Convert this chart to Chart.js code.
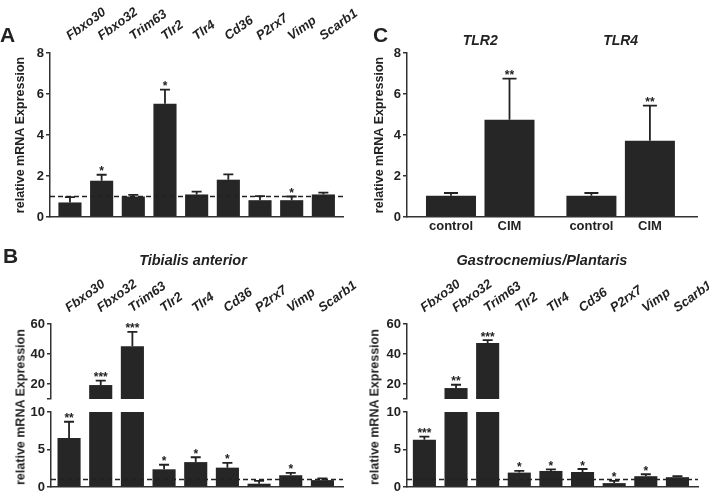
<!DOCTYPE html>
<html lang="en">
<head>
<meta charset="utf-8">
<title>relative mRNA Expression</title>
<script src="https://cdn.jsdelivr.net/npm/chart.js@4.4.0/dist/chart.umd.min.js"></script>
<style>
  body { margin: 0; background: #fff; }
  #lienzo { position: relative; width: 709px; height: 496px; overflow: hidden; background: #fff;
    font-family: "Liberation Sans", Arial, sans-serif; color: #222; }
  #lienzo canvas { position: absolute; }
  .letra { position: absolute; font-weight: bold; font-size: 21px; line-height: 21px; }
  .titulo { position: absolute; font-weight: bold; font-style: italic; font-size: 14.5px; line-height: 16px;
    white-space: nowrap; transform: translateX(-50%); }
  .ejeY { position: absolute; font-weight: bold; font-size: 12.5px; line-height: 15px; white-space: nowrap;
    transform: translate(-50%, -50%) rotate(-90deg); }
</style>
</head>
<body>
<div id="lienzo">
  <canvas id="graficoA" width="362" height="232" style="left:0;top:0"></canvas>
  <canvas id="graficoC" width="354" height="240" style="left:355px;top:0"></canvas>
  <canvas id="tibialSup" width="362" height="162" style="left:0;top:240px"></canvas>
  <canvas id="tibialInf" width="362" height="94" style="left:0;top:402px"></canvas>
  <canvas id="gastroSup" width="354" height="162" style="left:355px;top:240px"></canvas>
  <canvas id="gastroInf" width="354" height="94" style="left:355px;top:402px"></canvas>

  <div class="letra" style="left:0;top:24px">A</div>
  <div class="letra" style="left:373px;top:24px">C</div>
  <div class="letra" style="left:3px;top:245px">B</div>
  <div class="titulo" style="left:193px;top:252px">Tibialis anterior</div>
  <div class="titulo" style="left:542px;top:252px">Gastrocnemius/Plantaris</div>
  <div class="ejeY" style="left:21px;top:407px">relative mRNA Expression</div>
  <div class="ejeY" style="left:375px;top:407px">relative mRNA Expression</div>
</div>
<script>
// Genes del panel A y B
const genes = ["Fbxo30", "Fbxo32", "Trim63", "Tlr2", "Tlr4", "Cd36", "P2rx7", "Vimp", "Scarb1"];

// Panel A
const mediaA = [0.71, 1.77, 1.0, 5.53, 1.1, 1.82, 0.82, 0.82, 1.1];
const errorA = [0.26, 0.29, 0.08, 0.68, 0.14, 0.26, 0.2, 0.18, 0.09];
const signifA = ["", "*", "", "*", "", "", "", "*", ""];
const ticksA = [0, 2, 4, 6, 8];

// Panel B: Tibialis anterior
const mediaTA = [6.55, 19.3, 45.1, 2.36, 3.32, 2.58, 0.44, 1.57, 0.92];
const errorTA = [2.15, 2.9, 9.6, 0.61, 0.65, 0.65, 0.39, 0.31, 0.22];
const signifTA = ["**", "***", "***", "*", "*", "*", "", "*", ""];

// Panel B: Gastrocnemius/Plantaris
const mediaGP = [6.29, 17.3, 47.3, 1.92, 2.14, 2.0, 0.52, 1.44, 1.31];
const errorGP = [0.43, 2.2, 2.0, 0.22, 0.22, 0.4, 0.31, 0.26, 0.13];
const signifGP = ["***", "**", "***", "*", "*", "*", "*", "*", ""];

// Eje cortado del panel B
const ticksBSup = [10, 20, 40, 60];
const etiquetasBSup = ["", "20", "40", "60"];
const ticksBInf = [0, 5, 10];

// Panel C
const grupos = ["TLR2", "TLR4"];
const condiciones = ["control", "CIM"];
const mediaControl = [1.04, 1.04];
const errorControl = [0.13, 0.13];
const mediaCIM = [4.75, 3.72];
const errorCIM = [2.0, 1.71];
const signifCIM = ["**", "**"];
const ticksC = [0, 2, 4, 6, 8];

const colorBarra = "#262626";
const colorTexto = "#222";
const colorEje = "#333";
const fuente = '"Liberation Sans", Arial, sans-serif';
Chart.defaults.font.family = fuente;
Chart.defaults.color = colorTexto;

// Barras de error, asteriscos y línea discontinua en 1
const marcas = {
  id: "marcas",
  afterDatasetsDraw(chart, args, opts) {
    const { ctx, chartArea } = chart;
    const y = chart.scales.y;
    ctx.save();
    ctx.strokeStyle = colorTexto;
    ctx.fillStyle = colorTexto;
    if (opts.linea !== undefined) {
      const yl = y.getPixelForValue(opts.linea);
      ctx.setLineDash([5, 3]);
      ctx.lineWidth = 1.6;
      ctx.beginPath();
      ctx.moveTo(chartArea.left, yl);
      ctx.lineTo(chartArea.right, yl);
      ctx.stroke();
      ctx.setLineDash([]);
    }
    chart.data.datasets.forEach((ds, i) => {
      chart.getDatasetMeta(i).data.forEach((barra, j) => {
        const valor = ds.data[j].y;
        // solo lo que cae dentro de este tramo del eje
        if (valor < y.min || valor > y.max) return;
        const yv = y.getPixelForValue(valor);
        const yt = y.getPixelForValue(valor + ds.errores[j]);
        ctx.lineWidth = 1.8;
        ctx.beginPath();
        ctx.moveTo(barra.x, yv);
        ctx.lineTo(barra.x, yt);
        ctx.moveTo(barra.x - opts.cap / 2, yt);
        ctx.lineTo(barra.x + opts.cap / 2, yt);
        ctx.stroke();
        if (ds.estrellas[j]) {
          ctx.font = "bold 12px " + fuente;
          ctx.textAlign = "center";
          ctx.textBaseline = "alphabetic";
          ctx.fillText(ds.estrellas[j], barra.x, yt + 0.5);
        }
      });
    });
    ctx.restore();
  },
};

function ejeX(o) {
  return {
    type: "linear",
    position: o.posicion,
    min: o.min,
    max: o.max,
    offset: false,
    bounds: "data",
    afterBuildTicks: (s) => {
      s.ticks = o.valores.map((v) => ({ value: v }));
    },
    afterFit: (s) => {
      s.height = o.alto;
      s.paddingLeft = 0;
      s.paddingRight = 0;
    },
    grid: { display: false, drawTicks: false },
    border: { display: o.borde, color: colorEje, width: 1.5 },
    ticks: {
      display: !!o.textos,
      autoSkip: false,
      callback: (v, i) => (o.textos ? o.textos[i] : ""),
      minRotation: o.rotacion || 0,
      maxRotation: o.rotacion || 0,
      padding: o.padding || 0,
      labelOffset: o.corrimiento || 0,
      font: { size: o.tamano || 13, weight: "bold", style: o.cursiva ? "italic" : "normal" },
      color: colorTexto,
    },
  };
}

function ejeY(o) {
  return {
    min: o.min,
    max: o.max,
    bounds: "data",
    afterBuildTicks: (s) => {
      s.ticks = o.valores.map((v) => ({ value: v }));
    },
    afterFit: (s) => {
      s.width = o.ancho;
      s.paddingTop = 0;
      s.paddingBottom = 0;
    },
    grid: { drawOnChartArea: false, drawTicks: true, tickLength: 4, color: colorEje, lineWidth: 1.5 },
    border: { color: colorEje, width: 1.5 },
    ticks: {
      callback: (v, i) => o.textos[i],
      padding: 2,
      font: { size: 13, weight: "bold" },
      color: colorTexto,
    },
    title: o.tituloPad
      ? {
          display: true,
          text: "relative mRNA Expression",
          font: { size: 12.5, weight: "bold" },
          color: colorTexto,
          padding: { top: o.tituloPad, bottom: 0 },
        }
      : { display: false },
  };
}

function grafico(id, o) {
  return new Chart(document.getElementById(id), {
    type: "bar",
    data: {
      datasets: [
        {
          data: o.puntos,
          errores: o.errores,
          estrellas: o.estrellas,
          backgroundColor: colorBarra,
          borderWidth: 0,
          barPercentage: o.barra,
          categoryPercentage: 1,
        },
      ],
    },
    options: {
      responsive: false,
      animation: false,
      events: [],
      layout: { padding: o.padding },
      plugins: {
        legend: { display: false },
        tooltip: { enabled: false },
        marcas: { linea: o.linea, cap: o.cap },
      },
      scales: o.escalas,
    },
    plugins: [marcas],
  });
}

const indices = genes.map((g, i) => i);
const puntosDe = (media) => media.map((v, i) => ({ x: i, y: v }));

// A
grafico("graficoA", {
  puntos: puntosDe(mediaA),
  errores: errorA,
  estrellas: signifA,
  barra: 0.73,
  cap: 10,
  linea: 1,
  padding: { left: 0, right: 19, top: 0, bottom: 0 },
  escalas: {
    x: ejeX({ posicion: "bottom", min: -0.63, max: 8.62, valores: indices, alto: 15, borde: true }),
    xArriba: ejeX({
      posicion: "top", min: -0.63, max: 8.62, valores: indices, textos: genes, alto: 53,
      borde: false, rotacion: 36, padding: 9, corrimiento: 7, cursiva: true,
    }),
    y: ejeY({ min: 0, max: 8, valores: ticksA, textos: ticksA.map(String), ancho: 50, tituloPad: 13.5 }),
  },
});

// C: posiciones de las barras por grupo
const pasoGrupo = 2.4;
const posC = [];
const puntosC = [];
const erroresC = [];
const estrellasC = [];
const textosC = [];
grupos.forEach((g, gi) => {
  [mediaControl, mediaCIM].forEach((serie, ci) => {
    posC.push(gi * pasoGrupo + ci);
    puntosC.push({ x: gi * pasoGrupo + ci, y: serie[gi] });
    erroresC.push(ci === 0 ? errorControl[gi] : errorCIM[gi]);
    estrellasC.push(ci === 0 ? "" : signifCIM[gi]);
    textosC.push(condiciones[ci]);
  });
});
const centrosGrupo = grupos.map((g, gi) => gi * pasoGrupo + 0.5);

grafico("graficoC", {
  puntos: puntosC,
  errores: erroresC,
  estrellas: estrellasC,
  barra: 0.855,
  cap: 14,
  padding: { left: 0, right: 12, top: 0, bottom: 0 },
  escalas: {
    x: ejeX({ posicion: "bottom", min: -0.752, max: 4.205, valores: posC, textos: textosC, alto: 23, borde: true, padding: 2 }),
    xArriba: ejeX({
      posicion: "top", min: -0.752, max: 4.205, valores: centrosGrupo, textos: grupos, alto: 53,
      borde: false, padding: 3, tamano: 14, cursiva: true,
    }),
    y: ejeY({ min: 0, max: 8, valores: ticksC, textos: ticksC.map(String), ancho: 52, tituloPad: 17.5 }),
  },
});

// B: cada músculo en dos tramos (eje cortado)
function panelB(idSup, idInf, media, error, signif, xMin, xMax, anchoY, derecha) {
  grafico(idSup, {
    puntos: puntosDe(media),
    errores: error,
    estrellas: signif,
    barra: 0.73,
    cap: 10,
    padding: { left: 0, right: derecha, top: 0, bottom: 3 },
    escalas: {
      x: ejeX({
        posicion: "top", min: xMin, max: xMax, valores: indices, textos: genes, alto: 84,
        borde: false, rotacion: 36, padding: 8, corrimiento: 7, cursiva: true,
      }),
      y: ejeY({ min: 10, max: 60, valores: ticksBSup, textos: etiquetasBSup, ancho: anchoY }),
    },
  });
  grafico(idInf, {
    puntos: puntosDe(media),
    errores: error,
    estrellas: signif,
    barra: 0.73,
    cap: 10,
    linea: 1,
    padding: { left: 0, right: derecha, top: 10, bottom: 0 },
    escalas: {
      x: ejeX({ posicion: "bottom", min: xMin, max: xMax, valores: indices, alto: 9, borde: true }),
      y: ejeY({ min: 0, max: 10, valores: ticksBInf, textos: ticksBInf.map(String), ancho: anchoY }),
    },
  });
}

panelB("tibialSup", "tibialInf", mediaTA, errorTA, signifTA, -0.57, 8.65, 51, 19);
panelB("gastroSup", "gastroInf", mediaGP, errorGP, signifGP, -0.55, 8.65, 52, 11);
</script>
</body>
</html>
